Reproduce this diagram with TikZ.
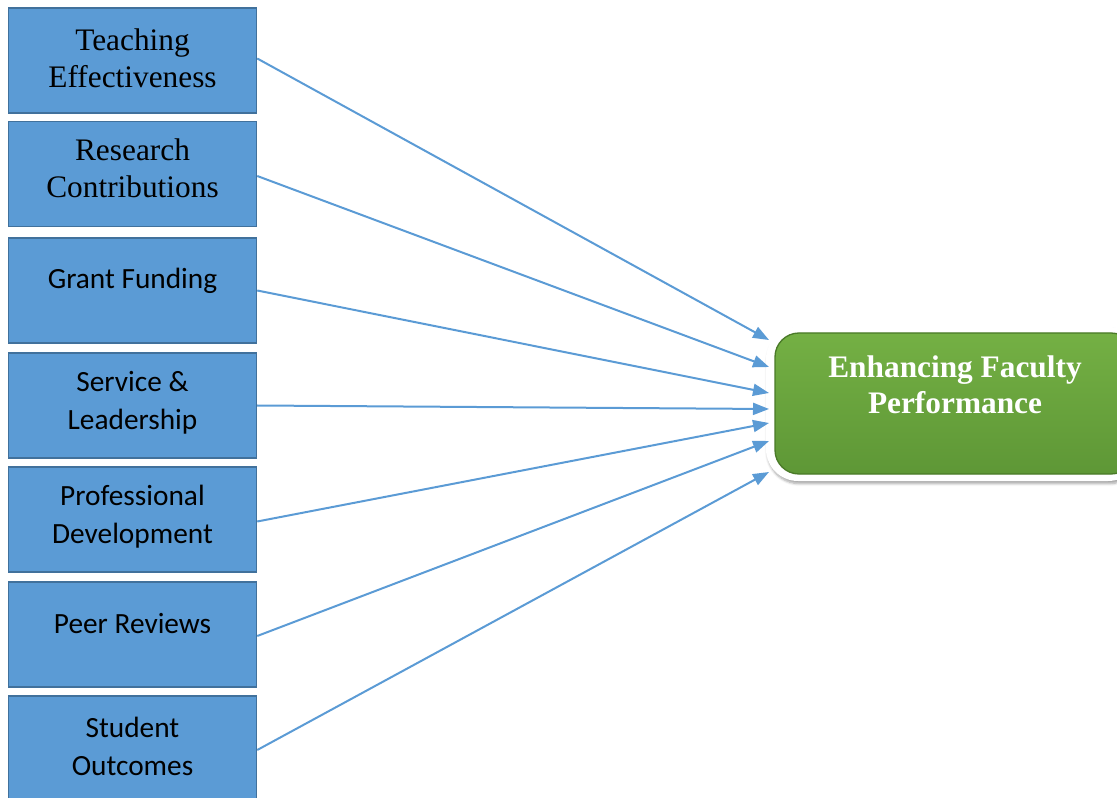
\documentclass[tikz,border=0pt]{standalone}
\usepackage{fontspec}
\setmainfont{Liberation Serif}
\newfontfamily\calibrifont{Carlito}
\usetikzlibrary{arrows.meta,calc,shadows.blur}
\definecolor{boxblue}{HTML}{5B9BD5}
\definecolor{boxedge}{HTML}{41719C}
\definecolor{arrblue}{HTML}{5B9BD5}
\definecolor{gtop}{HTML}{74B044}
\definecolor{gbot}{HTML}{5E9736}
\definecolor{gedge}{HTML}{4A7A28}
\tikzset{
  x=0.75pt, y=-0.75pt,
  factor/.style={draw=boxedge, line width=1.1pt, fill=boxblue, minimum width=186pt, minimum height=78.5pt, inner sep=0pt},
  serift/.style={font=\fontsize{23.5}{27.75}\selectfont, align=center, text=black},
  calt/.style={font=\calibrifont\fontsize{22}{28.5}\selectfont, align=center, text=black},
  conn/.style={draw=arrblue, line width=1.5pt, -{Triangle[length=12pt,width=9pt]}},
}
\begin{document}
\begin{tikzpicture}
\useasboundingbox (0,0) rectangle (1117,798);
% left factor boxes
\node[factor] (b1) at (132.5,60.5) {};
\node[factor] (b2) at (132.5,174) {};
\node[factor] (b3) at (132.5,290.5) {};
\node[factor] (b4) at (132.5,405.5) {};
\node[factor] (b5) at (132.5,519.5) {};
\node[factor] (b6) at (132.5,634.5) {};
\node[factor] (b7) at (132.5,748.5) {};
\node[serift] (l1) at (132.5,58) {Teaching\\Effectiveness};
\node[serift] (l2) at (132.5,168) {Research\\Contributions};
\node[calt] (l3) at (132.5,281) {Grant Funding};
\node[calt] (l4) at (132.5,403) {Service \&\\Leadership};
\node[calt] (l5) at (132.5,517) {Professional\\Development};
\node[calt] (l6) at (132.5,624) {Peer Reviews};
\node[calt] (l7) at (132.5,746) {Student\\Outcomes};
% target box
\draw[fill=white, draw=none, rounded corners=24pt, blur shadow={shadow xshift=1pt, shadow yshift=-2pt, shadow blur steps=6, shadow opacity=35}] (766,327) rectangle (1140,481);
\shade[top color=gtop, bottom color=gbot, draw=gedge, line width=1pt, rounded corners=18pt] (775,333) rectangle (1135,474);
\node[font=\bfseries\fontsize{23.5}{27}\selectfont, text=white, align=center] (T) at (955,385) {Enhancing Faculty\\Performance};
% arrow end points on the target box
\coordinate (e1) at (769,340);
\coordinate (e2) at (769,367);
\coordinate (e3) at (769,393);
\coordinate (e4) at (769,409);
\coordinate (e5) at (769,423);
\coordinate (e6) at (769,441);
\coordinate (e7) at (769,472);
\draw[conn] ($(b1.east)+(0,-2)$) -- (e1);
\draw[conn] ($(b2.east)+(0,2)$) -- (e2);
\draw[conn] (b3.east) -- (e3);
\draw[conn] (b4.east) -- (e4);
\draw[conn] ($(b5.east)+(0,2)$) -- (e5);
\draw[conn] ($(b6.east)+(0,1.5)$) -- (e6);
\draw[conn] ($(b7.east)+(0,1.5)$) -- (e7);
\end{tikzpicture}
\end{document}
